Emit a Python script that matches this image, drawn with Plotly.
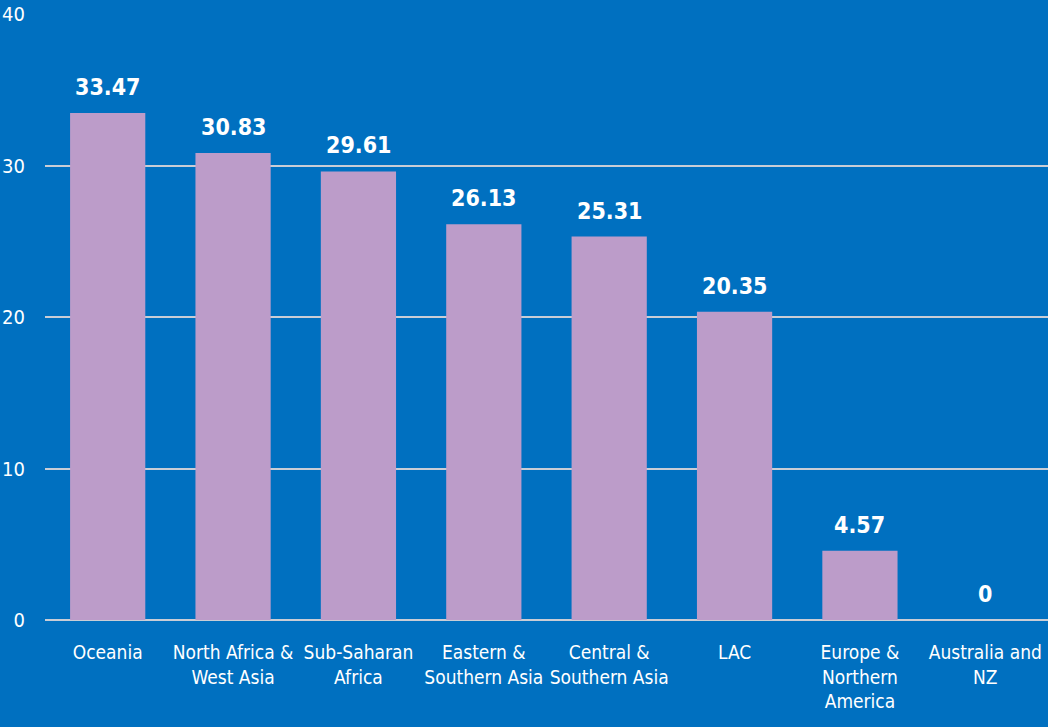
import plotly.graph_objects as go

# Data
regions = [
    "Oceania",
    "North Africa &<br>West Asia",
    "Sub-Saharan<br>Africa",
    "Eastern &<br>Southern Asia",
    "Central &<br>Southern Asia",
    "LAC",
    "Europe &<br>Northern<br>America",
    "Australia and<br>NZ",
]
values = [33.47, 30.83, 29.61, 26.13, 25.31, 20.35, 4.57, 0]
y_ticks = [0, 10, 20, 30, 40]

BG = "#0070C0"
BAR = "#BC9CC9"
GRID = "#C9CDD6"
FONT = "DejaVu Sans Condensed, DejaVu Sans, sans-serif"

fig = go.Figure()
fig.add_trace(go.Bar(
    x=regions,
    y=values,
    marker=dict(color=BAR, line=dict(width=0)),
    width=0.6,
    hoverinfo="x+y",
))

# value labels above each bar
for r, v in zip(regions, values):
    fig.add_annotation(
        x=r, y=v, text=f"{v:g}",
        showarrow=False, yanchor="bottom", yshift=11,
        font=dict(family=FONT, size=23, color="white", weight="bold"),
    )

fig.update_layout(
    width=1048,
    height=727,
    paper_bgcolor=BG,
    plot_bgcolor=BG,
    margin=dict(l=45, r=0, t=14, b=107, autoexpand=False),
    font=dict(family=FONT, color="white", size=19),
    showlegend=False,
    bargap=0.4,
)
fig.update_xaxes(
    showgrid=False,
    showline=False,
    ticks="",
    tickangle=0,
    automargin=False,
    ticklabelstandoff=19,
    tickfont=dict(size=19),
)
fig.update_yaxes(
    range=[0, 40],
    tickvals=y_ticks,
    showgrid=True,
    gridcolor=GRID,
    gridwidth=2,
    zeroline=True,
    zerolinecolor=GRID,
    zerolinewidth=2,
    ticks="",
    automargin=False,
    ticklabelstandoff=19,
    tickfont=dict(size=20),
)

# drop the browser's default body margin so the figure fills the window
fig.write_html(
    "out.html",
    config={"displayModeBar": False},
    post_script="document.body.style.margin='0';",
)
